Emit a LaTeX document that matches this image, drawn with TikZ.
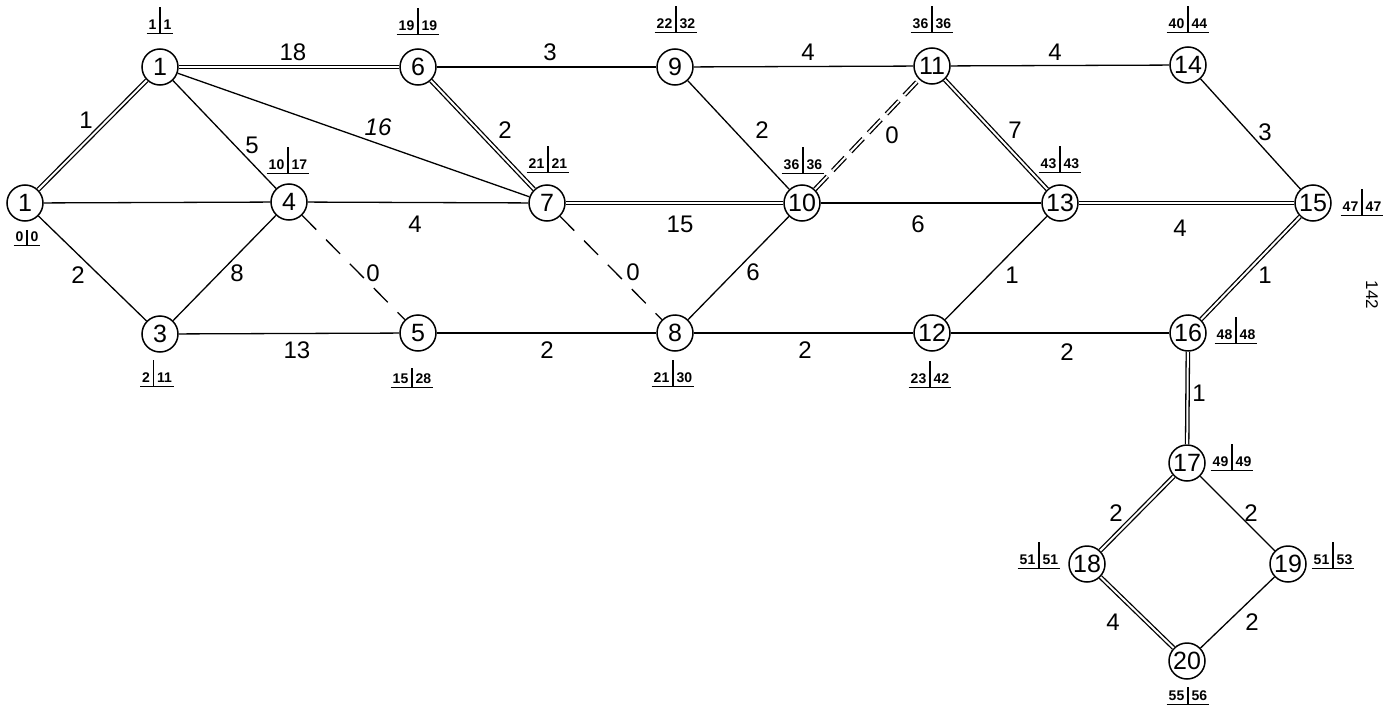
\documentclass[tikz,border=0pt]{standalone}
\usepackage{fontspec}
\setmainfont{Liberation Sans}
\newcommand\evt[3][23pt]{\vbox{\hbox{\kern2pt#2\kern3pt\vrule height #1 depth 3pt width 1.4pt\kern3pt#3\kern2pt}\hrule height 1.4pt}}
\tikzset{
  ev/.style={circle, draw, line width=1.5pt, minimum size=36pt, inner sep=0pt, font=\fontsize{25}{27}\selectfont},
  thin/.style={line width=1.3pt},
  crit/.style={double, double distance=2pt, line width=1.3pt},
  dum/.style={line width=1.3pt, dash pattern=on 20pt off 14pt},
  critdum/.style={double, double distance=2pt, line width=1.3pt, dash pattern=on 18pt off 8pt},
  wl/.style={font=\fontsize{24}{26}\selectfont, inner sep=0pt},
  tl/.style={font=\bfseries\fontsize{14}{16}\selectfont, inner sep=0pt, anchor=base},
}
\begin{document}
\begin{tikzpicture}[x=1pt,y=-1pt]
\useasboundingbox (0,0) rectangle (1389,717);
% events
\node[ev] (n1) at (25,203) {1};
\node[ev] (n2) at (160,67) {1};
\node[ev] (n3) at (160,334) {3};
\node[ev] (n4) at (289,202) {4};
\node[ev] (n5) at (418,333) {5};
\node[ev] (n6) at (418,67) {6};
\node[ev] (n7) at (547,203) {7};
\node[ev] (n8) at (675,333) {8};
\node[ev] (n9) at (675,67) {9};
\node[ev] (n10) at (802,203) {10};
\node[ev] (n11) at (932,66) {11};
\node[ev] (n12) at (932,333) {12};
\node[ev] (n13) at (1060,203) {13};
\node[ev] (n14) at (1188,65) {14};
\node[ev] (n15) at (1313,203) {15};
\node[ev] (n16) at (1188,333) {16};
\node[ev] (n17) at (1187,463) {17};
\node[ev] (n18) at (1087,564) {18};
\node[ev] (n19) at (1288,564) {19};
\node[ev] (n20) at (1187,661) {20};
% activities
\draw[crit] (n1) -- (n2);
\draw[thin] (n1) -- (n4);
\draw[thin] (n1) -- (n3);
\draw[crit] (n2) -- (n6);
\draw[thin] (n2) -- (n4);
\draw[thin] (n2) -- (n7);
\draw[thin] (n3) -- (n4);
\draw[thin] (n3) -- (n5);
\draw[dum] (n4) -- (n5);
\draw[thin] (n4) -- (n7);
\draw[crit] (n6) -- (n7);
\draw[thin] (n6) -- (n9);
\draw[crit] (n7) -- (n10);
\draw[dum] (n7) -- (n8);
\draw[thin] (n5) -- (n8);
\draw[thin] (n8) -- (n10);
\draw[thin] (n8) -- (n12);
\draw[thin] (n9) -- (n10);
\draw[thin] (n9) -- (n11);
\draw[critdum] (n10) -- (n11);
\draw[thin] (n10) -- (n13);
\draw[crit] (n11) -- (n13);
\draw[thin] (n11) -- (n14);
\draw[thin] (n12) -- (n13);
\draw[thin] (n12) -- (n16);
\draw[crit] (n13) -- (n15);
\draw[thin] (n14) -- (n15);
\draw[crit] (n15) -- (n16);
\draw[crit] (n16) -- (n17);
\draw[crit] (n17) -- (n18);
\draw[thin] (n17) -- (n19);
\draw[crit] (n18) -- (n20);
\draw[thin] (n19) -- (n20);
% durations
\node[wl] (w12) at (86,120) {1};
\node[wl] (w13) at (78,275) {2};
\node[wl] (w26) at (293,52) {18};
\node[wl] (w24) at (252,145) {5};
\node[wl] (w27) at (378,127) {\itshape 16};
\node[wl] (w34) at (237,273) {8};
\node[wl] (w35) at (297,350) {13};
\node[wl] (w45) at (373,273) {0};
\node[wl] (w47) at (415,224) {4};
\node[wl] (w67) at (505,130) {2};
\node[wl] (w69) at (550,52) {3};
\node[wl] (w710) at (680,224) {15};
\node[wl] (w78) at (633,272) {0};
\node[wl] (w58) at (547,350) {2};
\node[wl] (w810) at (753,272) {6};
\node[wl] (w812) at (805,350) {2};
\node[wl] (w910) at (762,130) {2};
\node[wl] (w911) at (808,52) {4};
\node[wl] (w1011) at (892,135) {0};
\node[wl] (w1013) at (918,224) {6};
\node[wl] (w1113) at (1015,130) {7};
\node[wl] (w1114) at (1055,52) {4};
\node[wl] (w1213) at (1012,275) {1};
\node[wl] (w1216) at (1067,352) {2};
\node[wl] (w1315) at (1180,228) {4};
\node[wl] (w1415) at (1265,132) {3};
\node[wl] (w1516) at (1265,275) {1};
\node[wl] (w1617) at (1199,393) {1};
\node[wl] (w1718) at (1116,513) {2};
\node[wl] (w1719) at (1251,513) {2};
\node[wl] (w1820) at (1113,622) {4};
\node[wl] (w1920) at (1252,622) {2};
% times
\node[tl] (t1) at (27,246) {\evt[12pt]{0}{0}};
\node[tl] (t2) at (160,34) {\evt{1}{1}};
\node[tl] (t3) at (157,387) {\evt{2}{11}};
\node[tl] (t4) at (288,174) {\evt{10}{17}};
\node[tl] (t5) at (412,388) {\evt[16pt]{15}{28}};
\node[tl] (t6) at (418,35) {\evt{19}{19}};
\node[tl] (t7) at (548,173) {\evt{21}{21}};
\node[tl] (t8) at (673,387) {\evt{21}{30}};
\node[tl] (t9) at (676,33) {\evt{22}{32}};
\node[tl] (t10) at (803,174) {\evt{36}{36}};
\node[tl] (t11) at (932,33) {\evt{36}{36}};
\node[tl] (t12) at (930,388) {\evt{23}{42}};
\node[tl] (t13) at (1060,173) {\evt{43}{43}};
\node[tl] (t14) at (1188,33) {\evt{40}{44}};
\node[tl] (t15) at (1362,216) {\evt{47}{47}};
\node[tl] (t16) at (1236,344) {\evt{48}{48}};
\node[tl] (t17) at (1232,471) {\evt{49}{49}};
\node[tl] (t18) at (1039,569) {\evt{51}{51}};
\node[tl] (t19) at (1333,569) {\evt{51}{53}};
\node[tl] (t20) at (1188,705) {\evt[14pt]{55}{56}};
% page number
\node[font=\fontsize{17}{19}\selectfont, rotate=-90, inner sep=0pt] (pg) at (1372,295) {142};
\end{tikzpicture}
\end{document}
